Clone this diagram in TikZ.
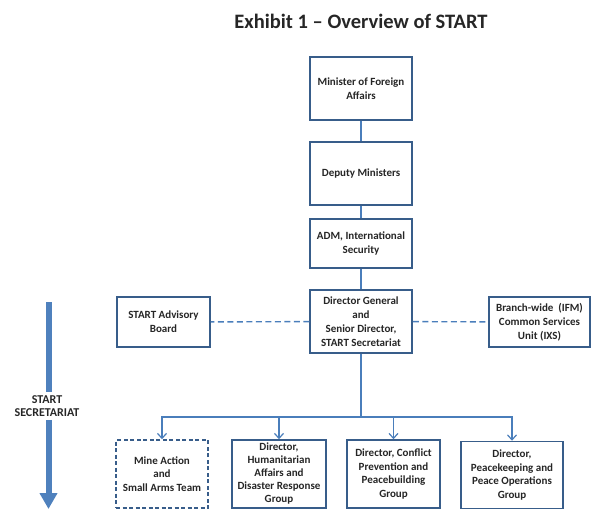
\documentclass[tikz,border=0pt]{standalone}
\usepackage{fontspec}
\setmainfont{Carlito}
\usepackage{tikz}
\usetikzlibrary{arrows.meta}

\definecolor{boxline}{RGB}{56,93,138}
\definecolor{linkline}{RGB}{74,126,187}
\definecolor{arrowfill}{RGB}{79,129,189}

\begin{document}
\begin{tikzpicture}[
    x=1pt, y=-1pt,
    orgbox/.style={shape=rectangle, draw=boxline, line width=1.5pt, fill=white, align=center, inner sep=1pt,
        font=\bfseries\fontsize{11}{13.8}\selectfont, text=black!85},
    teambox/.style={orgbox, dashed, dash pattern=on 4pt off 2.5pt},
    link/.style={draw=linkline, line width=1.2pt},
    dashlink/.style={link, line width=1.4pt, dash pattern=on 6pt off 3.5pt},
    down/.style={link, -{Straight Barb[length=5pt, width=9pt, line width=1.2pt]}},
]
\useasboundingbox (0,0) rectangle (595,527);

\node[font=\bfseries\fontsize{20.5}{24}\selectfont, text=black!85] (title) at (361, 21) {Exhibit 1 -- Overview of START};

\node[orgbox, minimum width=102pt, minimum height=63pt] (mfa) at (361, 88.5) {Minister of Foreign\\Affairs};
\node[orgbox, minimum width=102pt, minimum height=63pt] (dm) at (361, 173.5) {Deputy Ministers};
\node[orgbox, minimum width=102pt, minimum height=49pt] (adm) at (361, 243.5) {ADM, International\\Security};
\node[orgbox, minimum width=102pt, minimum height=63pt] (dg) at (361, 321.5) {Director General\\and\\Senior Director,\\START Secretariat};
\node[orgbox, minimum width=93pt, minimum height=50pt] (adv) at (163.5, 322) {START Advisory\\Board};
\node[orgbox, minimum width=101pt, minimum height=50pt] (ifm) at (539.5, 322) {Branch-wide\ \ (IFM)\\Common Services\\Unit (IXS)};

\node[teambox, minimum width=92pt, minimum height=68pt] (mine) at (162, 474) {Mine Action\\and\\Small Arms Team};
\node[orgbox, minimum width=94pt, minimum height=68pt, font=\bfseries\fontsize{11}{13}\selectfont] (hum) at (279, 474) {Director,\\Humanitarian\\Affairs and\\Disaster Response\\Group};
\node[orgbox, minimum width=93pt, minimum height=68pt] (cpb) at (393.5, 474) {Director, Conflict\\Prevention and\\Peacebuilding\\Group};
\node[orgbox, minimum width=102pt, minimum height=67pt] (pko) at (512, 475) {Director,\\Peacekeeping and\\Peace Operations\\Group};

\coordinate (bus) at (361, 417);

\draw[link] (mfa) -- (dm);
\draw[link] (dm) -- (adm);
\draw[link] (adm) -- (dg);
\draw[link] (dg) -- (bus);
\draw[dashlink] (dg) -- (adv);
\draw[dashlink] (dg) -- (ifm);

\draw[down] (bus) -| (mine);
\draw[down] (bus) -| (hum);
\draw[down] (bus) -| (cpb);
\draw[down] (bus) -| (pko);

% big arrow on the left
\node[font=\bfseries\fontsize{12}{12.5}\selectfont, text=black!85, align=center] (sec) at (47, 406) {START\\SECRETARIAT};
\coordinate (atop) at (48.5, 302);
\coordinate (abot) at (48.5, 509);
\draw[draw=arrowfill, line width=6pt] (atop) -- (sec.north -| atop);
\draw[draw=arrowfill, line width=6pt, -{Triangle[length=16pt, width=17pt]}, fill=arrowfill] (sec.south -| abot) -- (abot);
\end{tikzpicture}
\end{document}
